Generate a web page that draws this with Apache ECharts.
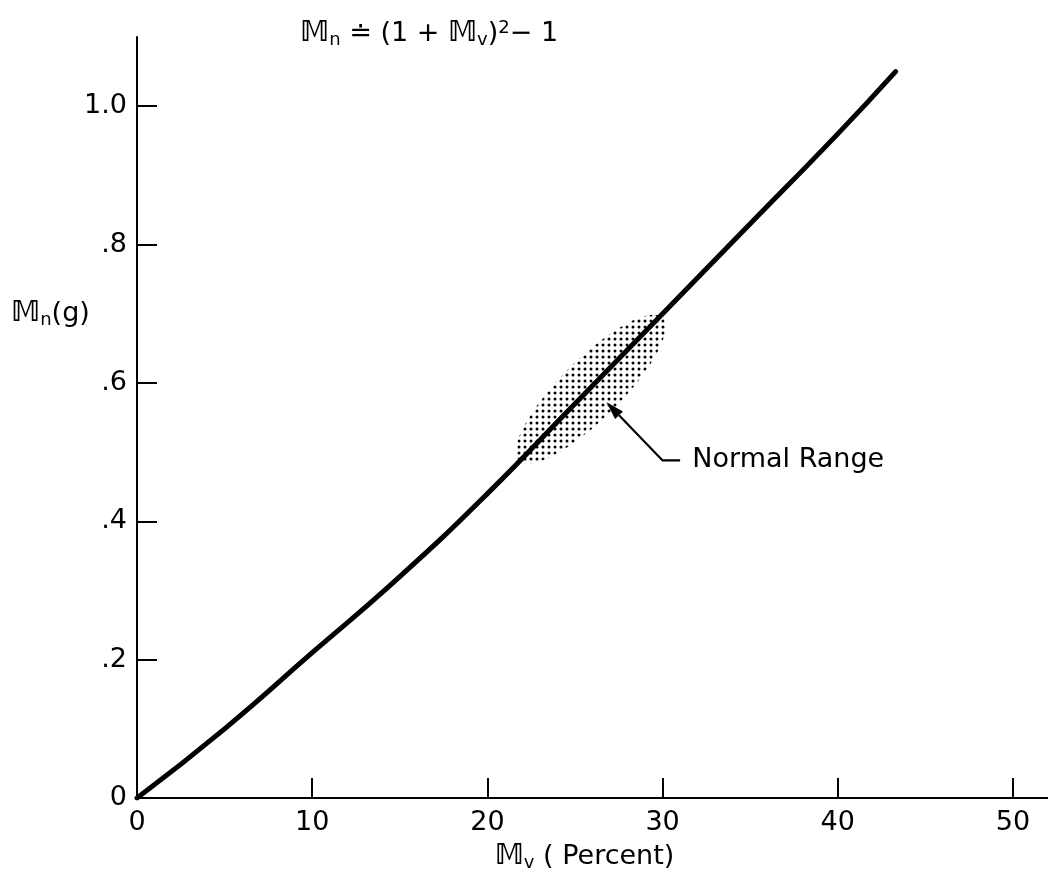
<!DOCTYPE html>
<html>
<head>
<meta charset="utf-8">
<script src="https://cdn.jsdelivr.net/npm/echarts@6/dist/echarts.min.js"></script>
<style>
html,body{margin:0;padding:0;background:#fff;}
#chart{width:1048px;height:877px;}
</style>
</head>
<body>
<div id="chart"></div>
<script>
// ---- data ----
const mvValues = [0, 5, 10, 15, 20, 25, 30, 35, 40, 43.3];          // Mv (percent)
const mnValues = [0, 0.10, 0.21, 0.32, 0.44, 0.57, 0.70, 0.83, 0.96, 1.05]; // Mn (g)
const xTickValues = [0, 10, 20, 30, 40, 50];
const xTickLabels = ['0', '10', '20', '30', '40', '50'];
const yTickValues = [0, 0.2, 0.4, 0.6, 0.8, 1.0];
const yTickLabels = ['0', '.2', '.4', '.6', '.8', '1.0'];
const normalRangeMv = [21.8, 30.0];
const normalRangeMn = [0.488, 0.694];
const arrowMv = [31.0, 30.0, 26.8];
const arrowMn = [0.488, 0.488, 0.572];
const annotationMv = [31.7];
const annotationMn = [0.488];
const annotationText = ['Normal Range'];

const FONT = 'DejaVu Sans';
const curveData = mvValues.map((v, i) => [v, mnValues[i]]);

function labelFor(values, labels, val) {
  const i = values.findIndex(v => Math.abs(v - val) < 1e-6);
  return i >= 0 ? labels[i] : '';
}

// dotted fill pattern
const pat = document.createElement('canvas');
pat.width = 6; pat.height = 6;
const pctx = pat.getContext('2d');
pctx.fillStyle = '#000';
pctx.beginPath(); pctx.arc(3, 3, 1.5, 0, Math.PI * 2); pctx.fill();

const rich = {
  m: { fontFamily: FONT, fontSize: 28, fontWeight: 'bold', color: '#000' },
  s: { fontFamily: FONT, fontSize: 18, fontWeight: 'normal', color: '#000', verticalAlign: 'bottom', padding: [12, 0, 0, 0] },
  p: { fontFamily: FONT, fontSize: 18, fontWeight: 'normal', color: '#000', verticalAlign: 'top', padding: [0, 0, 12, 0] },
  t: { fontFamily: FONT, fontSize: 27, fontWeight: 'normal', color: '#000' }
};

const chart = echarts.init(document.getElementById('chart'), null, { renderer: 'canvas' });
chart.setOption({
  backgroundColor: '#fff',
  animation: false,
  title: [
    {
      left: 295, top: 14,
      text: '{m|𝕄}{s|n}{t| ≐ (1 + }{m|𝕄}{s|v}{t|)}{p|2}{t|− 1}',
      textStyle: { rich: rich, fontWeight: 'normal' }
    },
    {
      left: 6, top: 294,
      text: '{m|𝕄}{s|n}{t|(g)}',
      textStyle: { rich: rich, fontWeight: 'normal' }
    }
  ],
  grid: { left: 137, right: 0, top: 37, bottom: 79, containLabel: false },
  xAxis: {
    type: 'value', min: 0, max: 52, interval: 10,
    splitLine: { show: false },
    axisLine: { show: true, onZero: false, lineStyle: { color: '#000', width: 2 } },
    axisTick: { show: true, inside: true, length: 20, customValues: [10, 20, 30, 40, 50], lineStyle: { color: '#000', width: 2 } },
    axisLabel: {
      customValues: xTickValues,
      formatter: v => labelFor(xTickValues, xTickLabels, v),
      fontFamily: FONT, fontSize: 27, color: '#000', margin: 11
    },
    name: '{m|𝕄}{s|v}{t| ( Percent)}',
    nameLocation: 'middle', nameGap: 44,
    nameTextStyle: { rich: rich, padding: [0, 16, 0, 0] }
  },
  yAxis: {
    type: 'value', min: 0, max: 1.1, interval: 0.2,
    splitLine: { show: false },
    axisLine: { show: true, onZero: false, lineStyle: { color: '#000', width: 2 } },
    axisTick: { show: true, inside: true, length: 20, customValues: [0.2, 0.4, 0.6, 0.8, 1.0], lineStyle: { color: '#000', width: 2 } },
    axisLabel: {
      customValues: yTickValues,
      formatter: v => labelFor(yTickValues, yTickLabels, v),
      fontFamily: FONT, fontSize: 27, color: '#000', margin: 10
    }
  },
  series: [
    {
      type: 'custom', name: 'Normal Range', z: 1,
      data: [[normalRangeMv[0], normalRangeMn[0], normalRangeMv[1], normalRangeMn[1]]],
      renderItem: function (params, api) {
        const p1 = api.coord([api.value(0), api.value(1)]);
        const p2 = api.coord([api.value(2), api.value(3)]);
        const cx = (p1[0] + p2[0]) / 2, cy = (p1[1] + p2[1]) / 2;
        const dx = p2[0] - p1[0], dy = p2[1] - p1[1];
        const a = Math.sqrt(dx * dx + dy * dy) / 2, b = 30;
        const ang = Math.atan2(dy, dx);
        const pts = [];
        for (let k = 0; k < 72; k++) {
          const t = k / 72 * Math.PI * 2;
          const ex = a * Math.cos(t), ey = b * Math.sin(t);
          pts.push([cx + ex * Math.cos(ang) - ey * Math.sin(ang), cy + ex * Math.sin(ang) + ey * Math.cos(ang)]);
        }
        return { type: 'polygon', shape: { points: pts }, style: { fill: { image: pat, repeat: 'repeat' }, stroke: null } };
      }
    },
    {
      type: 'line', name: 'Mn', z: 3,
      data: curveData, smooth: 0.5, symbol: 'none',
      lineStyle: { color: '#000', width: 5, cap: 'round' }
    },
    {
      type: 'custom', name: 'arrow', z: 4,
      data: [[arrowMv[0], arrowMn[0], arrowMv[1], arrowMn[1], arrowMv[2], arrowMn[2]]],
      renderItem: function (params, api) {
        const a = api.coord([api.value(0), api.value(1)]);
        const b = api.coord([api.value(2), api.value(3)]);
        const c = api.coord([api.value(4), api.value(5)]);
        const ang = Math.atan2(c[1] - b[1], c[0] - b[0]);
        const L = 18, W = 5.5;
        const base = [c[0] - L * Math.cos(ang), c[1] - L * Math.sin(ang)];
        const h1 = [base[0] + W * Math.sin(ang), base[1] - W * Math.cos(ang)];
        const h2 = [base[0] - W * Math.sin(ang), base[1] + W * Math.cos(ang)];
        return {
          type: 'group',
          children: [
            { type: 'polyline', shape: { points: [a, b, base] }, style: { stroke: '#000', lineWidth: 2.2, fill: null } },
            { type: 'polygon', shape: { points: [c, h1, h2] }, style: { fill: '#000' } }
          ]
        };
      }
    },
    {
      type: 'custom', name: 'label', z: 4,
      data: annotationMv.map((v, i) => [v, annotationMn[i], annotationText[i]]),
      renderItem: function (params, api) {
        const p = api.coord([api.value(0), api.value(1)]);
        return {
          type: 'text', x: p[0], y: p[1],
          style: { text: annotationText[params.dataIndex], fontFamily: FONT, fontSize: 27, fill: '#000', textAlign: 'left', textVerticalAlign: 'middle' }
        };
      }
    }
  ]
});
</script>
</body>
</html>
